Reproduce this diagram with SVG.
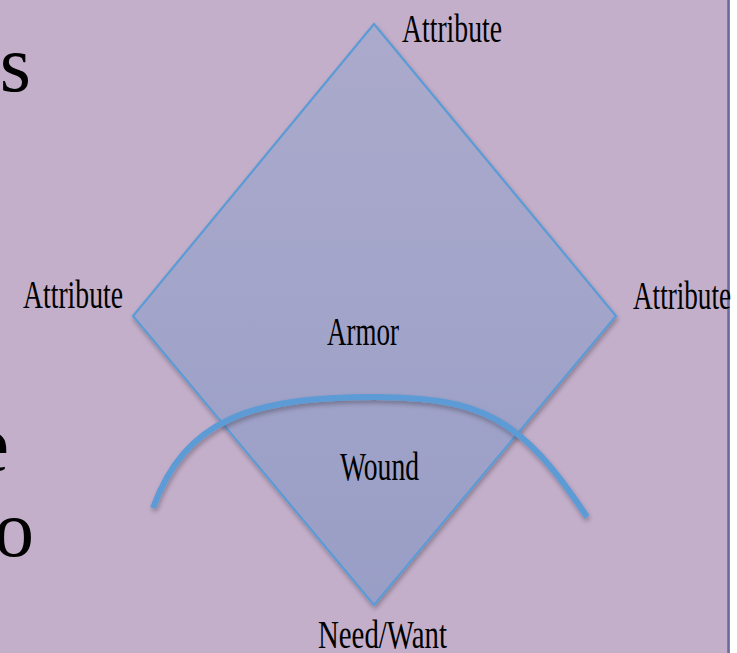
<svg xmlns="http://www.w3.org/2000/svg" width="737" height="653" viewBox="0 0 737 653">
<defs>
<linearGradient id="dg" x1="0" y1="0" x2="0" y2="1">
<stop offset="0" stop-color="#abaacc"/>
<stop offset="1" stop-color="#999ec6"/>
</linearGradient>
<filter id="sh" x="-20%" y="-20%" width="140%" height="140%">
<feGaussianBlur in="SourceAlpha" stdDeviation="2.5"/>
<feOffset dx="1" dy="3" result="b"/>
<feComponentTransfer><feFuncA type="linear" slope="0.3"/></feComponentTransfer>
<feMerge><feMergeNode/><feMergeNode in="SourceGraphic"/></feMerge>
</filter>
</defs>
<style>
.lbl{font-family:"Liberation Serif","Times New Roman",serif;font-size:40px;fill:#000}
.big{font-family:"Liberation Serif","Times New Roman",serif;font-size:80px;fill:#000}
</style>
<rect x="0" y="0" width="737" height="653" fill="#c4afcb"/>
<rect x="730" y="0" width="7" height="653" fill="#ffffff"/>
<line x1="728.5" y1="0" x2="728.5" y2="653" stroke="#6a6a9c" stroke-width="2.5"/>
<g id="slide-text">
<text class="big" x="31" y="91" text-anchor="end">as</text>
<text class="big" x="9" y="471" text-anchor="end">e</text>
<text class="big" x="34" y="556" text-anchor="end">o</text>
</g>
<g id="diamond">
<polygon points="374,24 616,316 374,605 133,316" fill="url(#dg)" stroke="#5b9bd5" stroke-width="2.2" stroke-linejoin="miter" filter="url(#sh)"/>
</g>
<g id="connectors">
<path d="M153,508 C185,420 250,397 375,397 C480,398 520,415 587,517" fill="none" stroke="#5b9bd5" stroke-width="6" stroke-linecap="butt" filter="url(#sh)"/>
</g>
<g id="label-top"><text class="lbl" x="402" y="42" textLength="100" lengthAdjust="spacingAndGlyphs">Attribute</text></g>
<g id="label-left"><text class="lbl" x="23" y="308" textLength="100" lengthAdjust="spacingAndGlyphs">Attribute</text></g>
<g id="label-right"><text class="lbl" x="633" y="309" textLength="98" lengthAdjust="spacingAndGlyphs">Attribute</text></g>
<g id="armor"><text class="lbl" x="327" y="345" textLength="72" lengthAdjust="spacingAndGlyphs">Armor</text></g>
<g id="wound"><text class="lbl" x="340" y="480" textLength="79" lengthAdjust="spacingAndGlyphs">Wound</text></g>
<g id="need-want"><text class="lbl" x="318" y="648" textLength="129" lengthAdjust="spacingAndGlyphs">Need/Want</text></g>
</svg>
